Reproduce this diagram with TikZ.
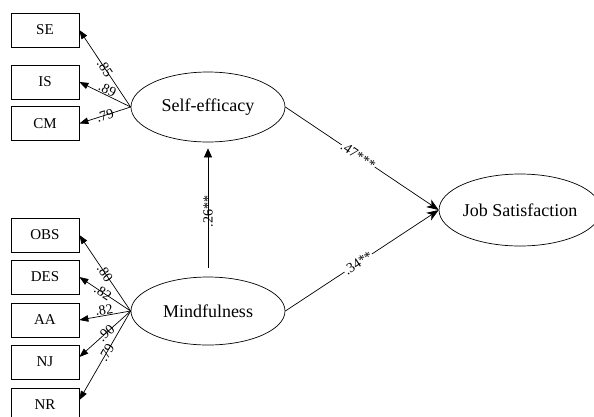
\documentclass[tikz,border=0pt]{standalone}
\usepackage{fontspec}
\setmainfont{Liberation Serif}
\usetikzlibrary{arrows.meta,shapes.geometric}
\begin{document}
\begin{tikzpicture}[x=1pt,y=-1pt,
  obsbox/.style={draw,line width=0.7pt,minimum width=68pt,minimum height=34pt,inner sep=0pt,font=\fontsize{15}{17}\selectfont},
  latent/.style={draw,ellipse,line width=0.7pt,inner sep=0pt,font=\fontsize{18}{20}\selectfont},
  loadarrow/.style={line width=0.7pt,-{Triangle[length=9pt,width=6.5pt]}},
  structarrow/.style={line width=0.7pt,-{Stealth[length=12pt,width=9pt,inset=3.5pt]}},
  lbl/.style={sloped,inner sep=0.5pt,font=\fontsize{14}{16}\selectfont}]
\useasboundingbox (0,0) rectangle (594,416);
% observed indicators
\node[obsbox] (se) at (45,30) {SE};
\node[obsbox] (is) at (45,82) {IS};
\node[obsbox] (cm) at (45,123.5) {CM};
\node[obsbox] (obs) at (45,235) {OBS};
\node[obsbox] (des) at (45,277) {DES};
\node[obsbox] (aa) at (45,320) {AA};
\node[obsbox] (nj) at (45,362) {NJ};
\node[obsbox] (nr) at (45,405) {NR};
% latent variables
\node[latent,minimum width=154pt,minimum height=70pt] (eff) at (208,107) {Self-efficacy};
\node[latent,minimum width=154pt,minimum height=68pt] (mind) at (208,311) {Mindfulness};
\node[latent,minimum width=146pt,minimum height=72pt] (js) at (520,210) {Job Satisfaction};
% loadings
\draw[loadarrow] (eff.west) -- node[lbl,pos=0.5] {.85} (se.east);
\draw[loadarrow] (eff.west) -- node[lbl,pos=0.5,anchor=south] {.89} (is.east);
\draw[loadarrow] (eff.west) -- node[lbl,pos=0.5] {.79} (cm.east);
\draw[loadarrow] (mind.west) -- node[lbl,pos=0.5] {.80} (obs.east);
\draw[loadarrow] (mind.west) -- node[lbl,pos=0.54] {.82} (des.east);
\draw[loadarrow] (mind.west) -- node[lbl,pos=0.5,anchor=south] {.82} (aa.east);
\draw[loadarrow] (mind.west) -- node[lbl,pos=0.48] {.90} ([yshift=5pt]nj.east);
\draw[loadarrow] (mind.west) -- node[lbl,pos=0.47] {.79} ([yshift=5pt]nr.east);
% structural paths
\draw[line width=0.7pt,-{Triangle[length=9pt,width=8pt]},shorten <=9pt,shorten >=6pt] (mind.north) -- node[lbl,pos=0.5,xshift=-2pt] {.26**} (eff.south);
\draw[structarrow] (eff.east) -- node[lbl,pos=0.475,fill=white] {.47***} (js.west);
\draw[structarrow] (mind.east) -- node[lbl,pos=0.475,fill=white] {.34**} (js.west);
\end{tikzpicture}
\end{document}
